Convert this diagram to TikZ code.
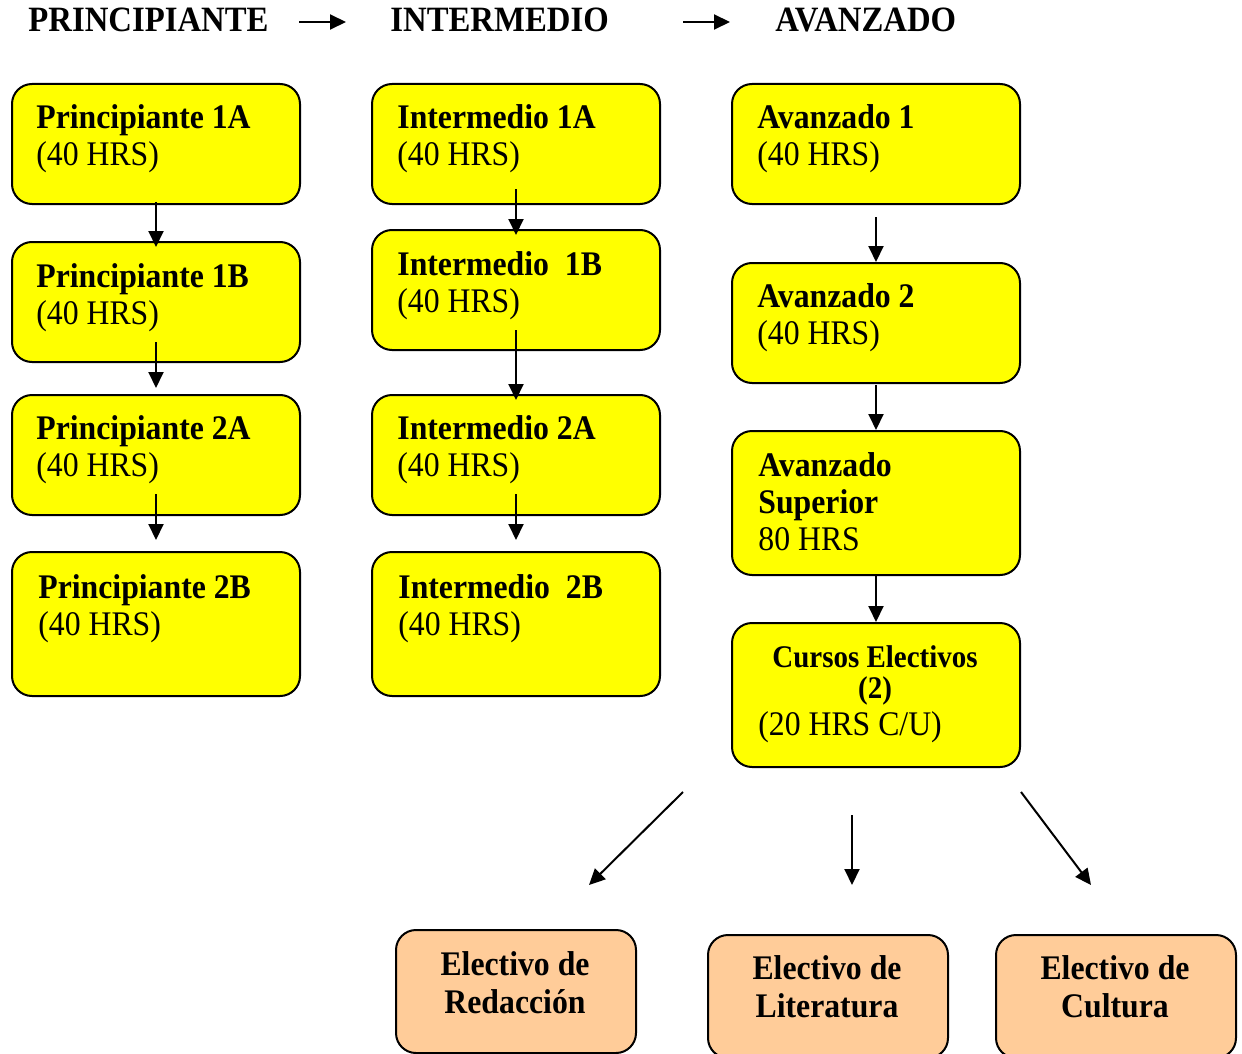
\documentclass[tikz,border=0pt]{standalone}
\usepackage{fontspec}
\setmainfont[FakeStretch=0.92]{Liberation Serif}
\usetikzlibrary{arrows.meta,calc}
\definecolor{ybox}{HTML}{FFFF00}
\definecolor{pbox}{HTML}{FFCC99}
\begin{document}
\begin{tikzpicture}[x=0.5pt,y=-0.5pt,
  ybox/.style={draw=black, line width=1pt, fill=ybox, rounded corners=10pt, minimum width=144pt, anchor=north west, inner sep=0pt},
  obox/.style={draw=black, line width=1pt, fill=pbox, rounded corners=10pt, minimum width=120pt, minimum height=61.5pt, anchor=north west, inner sep=0pt},
  txt/.style={anchor=base west, inner sep=0pt, align=left, font=\fontsize{17.25pt}{18.5pt}\selectfont},
  ctxt/.style={anchor=base, inner sep=0pt, align=center, font=\fontsize{17.25pt}{18.5pt}\selectfont\bfseries},
  hdr/.style={anchor=base west, inner sep=0pt, font=\fontsize{17.8pt}{18.5pt}\selectfont\bfseries},
  arr/.style={-{Triangle[length=8pt,width=7.5pt]}, line width=1pt}
]
\clip (0,0) rectangle (1242,1054);
\fill[white] (0,0) rectangle (1242,1054);

% headers
\node[hdr] (hp) at (28,32) {PRINCIPIANTE};
\node[hdr] (hi) at (390,32) {INTERMEDIO};
\node[hdr] (ha) at (775,32) {AVANZADO};
\coordinate (h1s) at (299,22); \coordinate (h1e) at (346,22);
\coordinate (h2s) at (683,22); \coordinate (h2e) at (730,22);
\draw[arr] (h1s) -- (h1e);
\draw[arr] (h2s) -- (h2e);

% column 1
\node[ybox, minimum height=60pt] (p1a) at (11,83) {};
\node[ybox, minimum height=60pt] (p1b) at (11,241) {};
\node[ybox, minimum height=60pt] (p2a) at (11,394) {};
\node[ybox, minimum height=72pt] (p2b) at (11,551) {};

% column 2
\node[ybox, minimum height=60pt] (i1a) at (371,83) {};
\node[ybox, minimum height=60pt] (i1b) at (371,229) {};
\node[ybox, minimum height=60pt] (i2a) at (371,394) {};
\node[ybox, minimum height=72pt] (i2b) at (371,551) {};

% column 3
\node[ybox, minimum height=60pt] (a1) at (731,83) {};
\node[ybox, minimum height=60pt] (a2) at (731,262) {};
\node[ybox, minimum height=72pt] (as) at (731,430) {};
\node[ybox, minimum height=72pt] (ce) at (731,622) {};

% electives
\node[obox] (red) at (395,929) {};
\node[obox] (lit) at (707,934) {};
\node[obox] (cul) at (995,934) {};

% arrows column 1
\draw[arr] ($(p1a.south)+(0,-3)$) -- ($(p1b.north)+(0,6)$);
\draw[arr] ($(p1b.south)+(0,-21)$) -- ($(p2a.north)+(0,-6)$);
\draw[arr] ($(p2a.south)+(0,-22)$) -- ($(p2b.north)+(0,-11)$);
% arrows column 2
\draw[arr] ($(i1a.south)+(0,-16)$) -- ($(i1b.north)+(0,6)$);
\draw[arr] ($(i1b.south)+(0,-21)$) -- ($(i2a.north)+(0,6)$);
\draw[arr] ($(i2a.south)+(0,-22)$) -- ($(i2b.north)+(0,-11)$);
% arrows column 3
\draw[arr] ($(a1.south)+(0,12)$) -- (a2.north);
\draw[arr] ($(a2.south)+(0,1)$) -- (as.north);
\draw[arr] (as.south) -- (ce.north);
% arrows to electives
\draw[arr] ($(ce.south west)+(-48,24)$) -- ($(red.north)+(73,-44)$);
\draw[arr] ($(ce.south)+(-24,47)$) -- ($(lit.north)+(24,-49)$);
\draw[arr] ($(ce.south east)+(0,24)$) -- ($(cul.north)+(-25,-49)$);

% texts (anchor = baseline of last line)
\node[txt] (tp1a) at (36,165) {\textbf{Principiante 1A}\\(40 HRS)};
\node[txt] (tp1b) at (36,324) {\textbf{Principiante 1B}\\(40 HRS)};
\node[txt] (tp2a) at (36,476) {\textbf{Principiante 2A}\\(40 HRS)};
\node[txt] (tp2b) at (38,635) {\textbf{Principiante 2B}\\(40 HRS)};
\node[txt] (ti1a) at (397,165) {\textbf{Intermedio 1A}\\(40 HRS)};
\node[txt] (ti1b) at (397,312) {\textbf{Intermedio\ \ 1B}\\(40 HRS)};
\node[txt] (ti2a) at (397,476) {\textbf{Intermedio 2A}\\(40 HRS)};
\node[txt] (ti2b) at (398,635) {\textbf{Intermedio\ \ 2B}\\(40 HRS)};
\node[txt] (ta1) at (757,165) {\textbf{Avanzado 1}\\(40 HRS)};
\node[txt] (ta2) at (757,344) {\textbf{Avanzado 2}\\(40 HRS)};
\node[txt] (tas) at (758,550) {\textbf{Avanzado}\\\textbf{Superior}\\80 HRS};
\node[ctxt, font=\fontsize{15.75pt}{16pt}\selectfont\bfseries] (tce1) at (875,667) {Cursos Electivos};
\node[ctxt, font=\fontsize{15.75pt}{16pt}\selectfont\bfseries] (tce2) at (875,698) {(2)};
\node[txt] (tce3) at (758,735) {(20 HRS C/U)};
\node[ctxt] (tred1) at (515,975) {Electivo de};
\node[ctxt] (tred2) at (515,1013) {Redacción};
\node[ctxt] (tlit1) at (827,979) {Electivo de};
\node[ctxt] (tlit2) at (827,1017) {Literatura};
\node[ctxt] (tcul1) at (1115,979) {Electivo de};
\node[ctxt] (tcul2) at (1115,1017) {Cultura};
\end{tikzpicture}
\end{document}
